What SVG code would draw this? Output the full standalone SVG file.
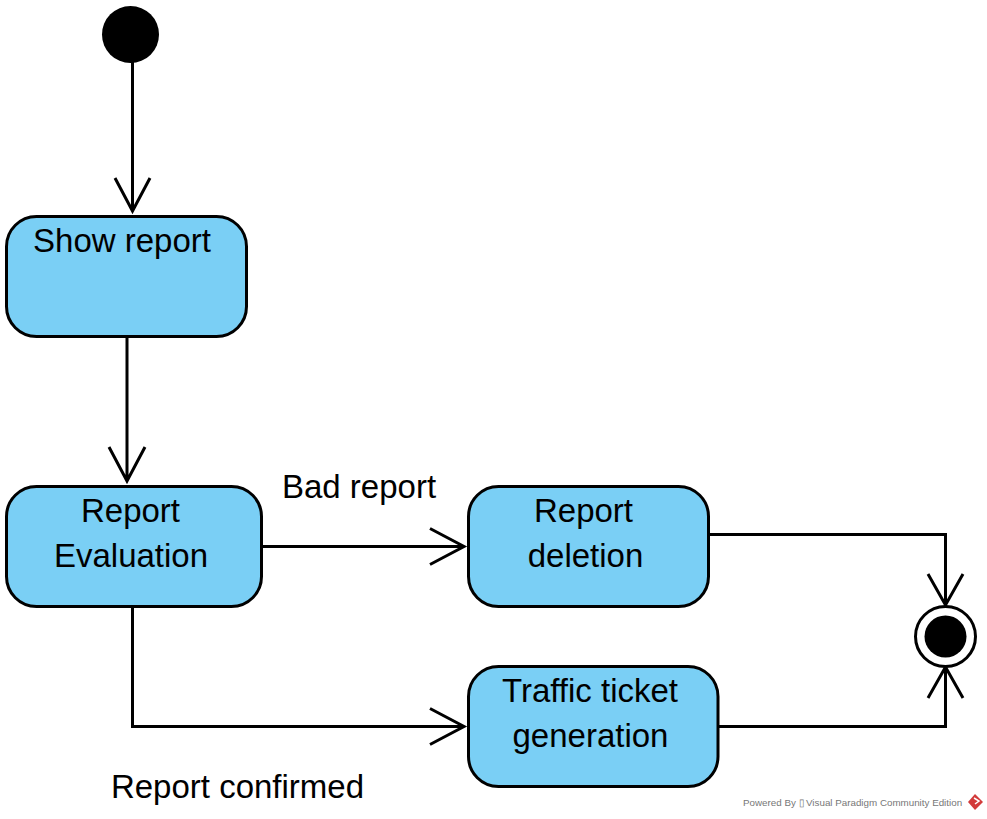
<svg xmlns="http://www.w3.org/2000/svg" width="987" height="819" viewBox="0 0 987 819">
<style>
text{font-family:"Liberation Sans",Arial,sans-serif;fill:#000}
.l{font-size:33px;text-anchor:middle}
.n{fill:#7acff5;stroke:#000;stroke-width:3}
.c path{fill:none;stroke:#000;stroke-width:3}
</style>
<rect width="987" height="819" fill="#fff"/>
<g id="connectors" class="c">
<path d="M132.500 62V211M115 178L132.500 211L150 178"/>
<path d="M127 336V481M109 447L127 481L145 447"/>
<path d="M261 546.500H464M430 528.500L464 546.500L430 564.500"/>
<path d="M132.500 606V726.500H464M430 708.500L464 726.500L430 744.500"/>
<path d="M708 534.500H945.500V605M928 574L945.500 605L963 574"/>
<path d="M718 726.500H945.500V667M928 698L945.500 667L963 698"/>
</g>
<g id="start"><circle cx="130.500" cy="34.500" r="28.500" fill="#000"/></g>
<g id="show-report"><rect class="n" x="6.500" y="216.500" width="240" height="120" rx="30"/><text class="l" x="122" y="252">Show report</text></g>
<g id="report-evaluation"><rect class="n" x="6.500" y="486.500" width="255" height="120" rx="30"/><text class="l" x="130.500" y="522">Report</text><text class="l" x="131" y="567">Evaluation</text></g>
<g id="report-deletion"><rect class="n" x="468.500" y="486.500" width="240" height="120" rx="30"/><text class="l" x="583.500" y="522">Report</text><text class="l" x="585.500" y="567">deletion</text></g>
<g id="traffic-ticket"><rect class="n" x="468.500" y="666.500" width="249.500" height="120" rx="30"/><text class="l" x="590" y="702">Traffic ticket</text><text class="l" x="590.500" y="747">generation</text></g>
<g id="end"><circle cx="945.500" cy="636.500" r="30" fill="#fff" stroke="#000" stroke-width="3"/><circle cx="945.500" cy="636.500" r="21" fill="#000"/></g>
<text class="l" x="359" y="498">Bad report</text>
<text class="l" x="237.500" y="798">Report confirmed</text>
<g id="watermark">
<text x="743" y="806" font-size="9.800" style="fill:#777">Powered By<tspan x="798.500">▯</tspan><tspan x="806">Visual Paradigm Community Edition</tspan></text>
<path d="M975 794L983 802L975 810L968 802Z" fill="#d23a3a"/>
<path d="M974 798L979 801L975 804" fill="none" stroke="#fff" stroke-width="1.500"/>
</g>
</svg>
